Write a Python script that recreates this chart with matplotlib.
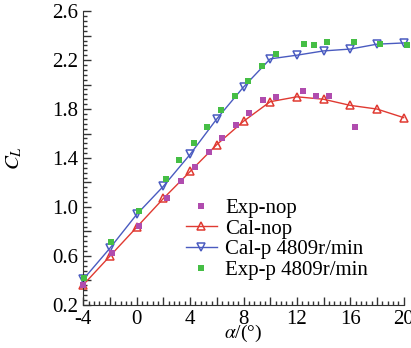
import numpy as np
import matplotlib
matplotlib.use("Agg")
import matplotlib.pyplot as plt

plt.rcParams.update(
    {
        "font.family": "serif",
        "font.serif": ["Liberation Serif", "DejaVu Serif"],
        "mathtext.fontset": "stix",
        "font.size": 15,
    }
)

# %% data
alpha_exp_nop = [-4.0, -1.85, 0.2, 2.3, 3.3, 4.35, 5.4, 6.4, 7.45, 8.4, 9.43, 10.45, 12.46, 13.43, 14.43, 16.33]
cl_exp_nop = [0.36, 0.62, 0.845, 1.07, 1.21, 1.33, 1.45, 1.56, 1.67, 1.77, 1.87, 1.90, 1.95, 1.91, 1.91, 1.655]

alpha_cal = [-4, -2, 0, 2, 4, 6, 8, 10, 12, 14, 16, 18, 20]
cl_cal_nop = [0.365, 0.60, 0.835, 1.07, 1.29, 1.51, 1.70, 1.86, 1.90, 1.88, 1.83, 1.80, 1.73]
cl_cal_p = [0.41, 0.665, 0.94, 1.17, 1.43, 1.72, 1.98, 2.21, 2.24, 2.275, 2.29, 2.33, 2.34]

alpha_exp_p = [-3.95, -1.9, 0.2, 2.2, 3.2, 4.27, 5.3, 6.3, 7.35, 8.35, 9.38, 10.4, 12.56, 13.3, 14.26, 16.25, 18.26, 20.26]
cl_exp_p = [0.42, 0.71, 0.97, 1.225, 1.38, 1.52, 1.65, 1.79, 1.91, 2.03, 2.15, 2.25, 2.33, 2.32, 2.345, 2.35, 2.335, 2.32]

x_ticks = [-4, -2, 0, 2, 4, 6, 8, 10, 12, 14, 16, 18, 20]
x_labels = ["-4", "", "0", "", "4", "", "8", "", "12", "", "16", "", "20"]
y_ticks = [0.2, 0.4, 0.6, 0.8, 1.0, 1.2, 1.4, 1.6, 1.8, 2.0, 2.2, 2.4, 2.6]
y_labels = ["0.2", "", "0.6", "", "1.0", "", "1.4", "", "1.8", "", "2.2", "", "2.6"]

purple = "#B04CAE"
red = "#E03A32"
blue = "#4A5BC0"
green = "#45BE45"
axc = "#333333"

# %% plot
fig = plt.figure(figsize=(4.11, 3.48), dpi=100)
ax = fig.add_axes([0.203, 0.124, 0.779, 0.844])

ax.plot(alpha_exp_nop, cl_exp_nop, "s", color=purple, markersize=5, markeredgewidth=0,
        label="Exp-nop", clip_on=False, zorder=3)
ax.plot(alpha_cal, cl_cal_nop, "-^", color=red, linewidth=1, markersize=6,
        markerfacecolor="none", markeredgewidth=1.1, label="Cal-nop", clip_on=False)
ax.plot(alpha_cal, cl_cal_p, "-v", color=blue, linewidth=1, markersize=6,
        markerfacecolor="none", markeredgewidth=1.1, label="Cal-p 4809r/min", clip_on=False)
ax.plot(alpha_exp_p, cl_exp_p, "s", color=green, markersize=5, markeredgewidth=0,
        label="Exp-p 4809r/min", clip_on=False, zorder=3)

ax.set_xlim(-4, 20)
ax.set_ylim(0.2, 2.6)
ax.set_xticks(x_ticks)
ax.set_xticklabels(x_labels)
ax.set_xticks(np.arange(-4, 20.01, 0.4), minor=True)
ax.set_yticks(y_ticks)
ax.set_yticklabels(y_labels)
ax.set_yticks(np.arange(0.2, 2.601, 0.04), minor=True)

ax.tick_params(which="both", direction="in", color=axc, width=1)
ax.tick_params(which="major", length=6, pad=4)
ax.tick_params(which="minor", length=3)

ax.spines["top"].set_visible(False)
ax.spines["right"].set_visible(False)
for spine in ["left", "bottom"]:
    ax.spines[spine].set_color(axc)

ax.set_xlabel(r"$\alpha$/(°)", labelpad=-5, fontsize=14)
ax.set_ylabel(r"$C_L$", labelpad=20)

ax.legend(loc="upper left", bbox_to_anchor=(0.452, 0.43), bbox_transform=fig.transFigure,
          frameon=False, fontsize=15, handlelength=1.5, handletextpad=0.4,
          labelspacing=0.05, borderpad=0, borderaxespad=0)

plt.savefig("out.png", dpi=100)
